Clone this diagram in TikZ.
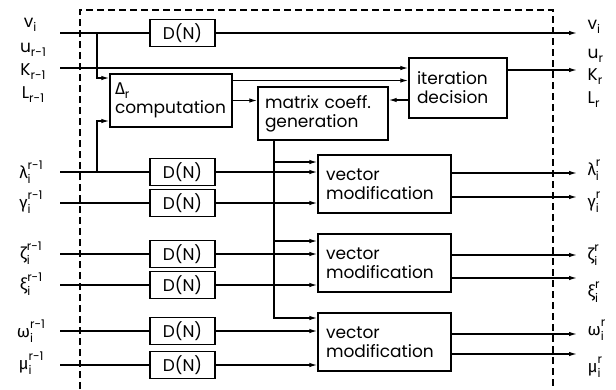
\documentclass[tikz,border=0pt]{standalone}
\usepackage{amsmath}
\usepackage{fontspec}
\setmainfont{Poppins}
\newfontfamily\grk{Fira Sans}
\usepackage{tikz}
\usetikzlibrary{arrows.meta}

\newcommand{\scr}{\fontsize{12}{12}\selectfont}
\newcommand{\lsub}[2]{#1\raisebox{-4pt}{\scr #2}}
\newcommand{\lss}[3]{{\grk #1}\raisebox{-5pt}{\scr\shortstack[l]{#3\\[1.5pt]#2}}}

\tikzset{
  txt/.style={font=\fontsize{17}{19}\selectfont},
  delay/.style={txt, draw, line width=1.4pt, minimum width=65pt, minimum height=27pt, inner sep=0pt},
  blk/.style={txt, draw, line width=1.4pt, align=left, inner xsep=8pt, inner ysep=0pt},
  arr/.style={-{Latex[length=8pt,width=4.5pt]}},
  lbl/.style={txt, inner sep=0pt},
  frame/.style={dash pattern=on 7pt off 4pt, line width=1.2pt}
}

\begin{document}
\begin{tikzpicture}[x=1pt, y=-1pt, line width=1.3pt]
    \useasboundingbox (0,0) rectangle (616,389);

    % dashed frame
    \draw[frame] (80,389) -- (80,10) -- (553,10) -- (553,389);

    % delay boxes
    \node[delay] (dnv) at (182.5,33) {D(N)};
    \node[delay] (dnl) at (182.5,172) {D(N)};
    \node[delay] (dng) at (182.5,203) {D(N)};
    \node[delay] (dnz) at (182.5,254) {D(N)};
    \node[delay] (dnx) at (182.5,285) {D(N)};
    \node[delay] (dnw) at (182.5,331) {D(N)};
    \node[delay] (dnm) at (182.5,365) {D(N)};

    % processing blocks
    \node[blk, inner xsep=5pt, text width=112pt, minimum height=53pt] (delta) at (171,100.5) {{\grk Δ}\raisebox{-4pt}{\scr r}\\computation};
    \node[blk, inner xsep=7pt, text width=116pt, minimum height=53pt] (mcg) at (323,113.5) {matrix coeff.\\generation};
    \node[blk, text width=82pt, minimum height=60pt] (iter) at (458,88) {iteration\\decision};
    \node[blk, text width=117pt, minimum height=58pt] (vm1) at (384.5,184) {vector\\modification};
    \node[blk, text width=117pt, minimum height=58pt] (vm2) at (384.5,263) {vector\\modification};
    \node[blk, text width=117pt, minimum height=58pt] (vm3) at (384.5,342) {vector\\modification};

    % input labels
    \node[lbl] (iv) at (30,25) {\lsub{v}{i}};
    \node[lbl] (iu) at (33,50) {\lsub{u}{r-1}};
    \node[lbl] (ik) at (33,72) {\lsub{K}{r-1}};
    \node[lbl] (il) at (33,95) {\lsub{L}{r-1}};
    \node[lbl] (ila) at (31,172) {\lss{λ}{i}{r-1}};
    \node[lbl] (iga) at (31,202) {\lss{γ}{i}{r-1}};
    \node[lbl] (ize) at (31,253) {\lss{ζ}{i}{r-1}};
    \node[lbl] (ixi) at (31,284) {\lss{ξ}{i}{r-1}};
    \node[lbl] (iom) at (31,331) {\lss{ω}{i}{r-1}};
    \node[lbl] (imu) at (31,363) {\lss{μ}{i}{r-1}};

    % output labels
    \node[lbl, anchor=west] (ov) at (587,27) {\lsub{v}{i}};
    \node[lbl, anchor=west] (ou) at (587,56) {\lsub{u}{r}};
    \node[lbl, anchor=west] (ok) at (587,77) {\lsub{K}{r}};
    \node[lbl, anchor=west] (ol) at (587,100) {\lsub{L}{r}};
    \node[lbl, anchor=west] (ola) at (587,170) {\lss{λ}{i}{r}};
    \node[lbl, anchor=west] (oga) at (587,202) {\lss{γ}{i}{r}};
    \node[lbl, anchor=west] (oze) at (587,255) {\lss{ζ}{i}{r}};
    \node[lbl, anchor=west] (oxi) at (587,292) {\lss{ξ}{i}{r}};
    \node[lbl, anchor=west] (oom) at (587,330) {\lss{ω}{i}{r}};
    \node[lbl, anchor=west] (omu) at (587,367) {\lss{μ}{i}{r}};

    % line ends
    \coordinate (vin) at (60,33);
    \coordinate (kin) at (60,68);
    \coordinate (lin) at (60,172);
    \coordinate (gin) at (60,203);
    \coordinate (zin) at (60,254);
    \coordinate (xin) at (60,285);
    \coordinate (win) at (60,331);
    \coordinate (min) at (60,365);
    \coordinate (vout) at (577,33);
    \coordinate (uout) at (577,70);
    \coordinate (lout) at (577,173);
    \coordinate (gout) at (577,197);
    \coordinate (zout) at (577,255);
    \coordinate (xout) at (577,278);
    \coordinate (wout) at (577,334);
    \coordinate (mout) at (577,354);
    \coordinate (ja) at (97,33);
    \coordinate (jb) at (97,172);
    \coordinate (mb) at (274,140);

    % delayed paths
    \draw (vin) -- (dnv.west);
    \draw[arr] (dnv.east) -- (vout);
    \draw (lin) -- (dnl.west);
    \draw (gin) -- (dng.west);
    \draw (zin) -- (dnz.west);
    \draw (xin) -- (dnx.west);
    \draw (win) -- (dnw.west);
    \draw (min) -- (dnm.west);
    \draw[arr] (dnl.east) -- (dnl.east -| vm1.west);
    \draw[arr] (dng.east) -- (dng.east -| vm1.west);
    \draw[arr] (dnz.east) -- (dnz.east -| vm2.west);
    \draw[arr] (dnx.east) -- (dnx.east -| vm2.west);
    \draw[arr] (dnw.east) -- (dnw.east -| vm3.west);
    \draw[arr] (dnm.east) -- (dnm.east -| vm3.west);

    % delta computation
    \draw[arr] (ja) |- ([yshift=22.5pt]delta.west);
    \draw[arr] (jb) |- ([yshift=-20.5pt]delta.west);
    \draw[arr] (delta.east) -- (delta.east -| mcg.west);
    \draw[arr] ([yshift=20pt]delta.east) -- ([yshift=20pt]delta.east -| iter.west);

    % iteration decision
    \draw[arr] (kin) -- (kin -| iter.west);
    \draw[arr] ([yshift=-12pt]iter.west) -- ([yshift=-12pt]iter.west -| mcg.east);
    \draw[arr] (iter.east |- uout) -- (uout);

    % coefficients to vector blocks
    \draw[arr] (mb) |- ([yshift=22pt]vm1.west);
    \draw[arr] (mb) |- ([yshift=22pt]vm2.west);
    \draw[arr] (mb) |- ([yshift=24pt]vm3.west);

    % outputs
    \draw[arr] (vm1.east |- lout) -- (lout);
    \draw[arr] (vm1.east |- gout) -- (gout);
    \draw[arr] (vm2.east |- zout) -- (zout);
    \draw[arr] (vm2.east |- xout) -- (xout);
    \draw[arr] (vm3.east |- wout) -- (wout);
    \draw[arr] (vm3.east |- mout) -- (mout);
\end{tikzpicture}
\end{document}
